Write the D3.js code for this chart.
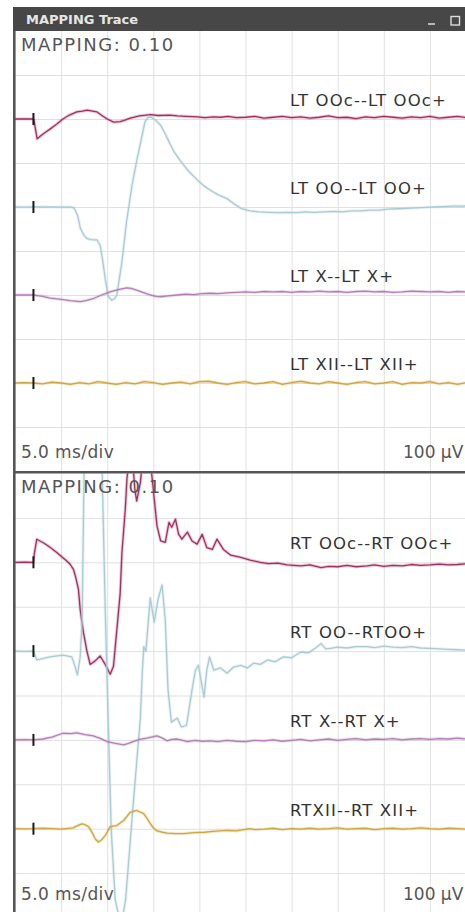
<!DOCTYPE html>
<html>
<head>
<meta charset="utf-8">
<script src="https://cdn.jsdelivr.net/npm/d3@7"></script>
<style>
  body { margin: 0; background: #fff; }
  svg { display: block; }
  text { font-family: "DejaVu Sans", Verdana, sans-serif; }
</style>
</head>
<body>
<script>
// time in ms, amplitude in uV (100 uV / div, 5 ms / div)
var LT_OOc = [[0,0],[1,0.5],[2,0],[2.05,-2],[2.4,-45],[2.8,-38],[3.3,-30],[3.8,-23],[4.5,-12],[5.2,0],[5.9,9],[6.7,16],[7.3,18],[7.8,20],[8.4,18],[8.9,16],[9.5,7],[10.0,0],[10.7,-7],[11.4,-6],[12.0,-2],[12.5,2],[13.5,7],[14.7,10],[15.5,8],[16.8,9],[17.6,7],[18.5,6],[19.8,5],[20.6,3],[21.5,5],[22.3,4],[23.1,6],[24,3],[25,4],[26,6],[27,2],[28,4],[29,6],[30,3],[31,5],[32,2],[33,4],[34,7],[35,3],[36,4],[37,1],[38,5],[39,3],[40,6],[41,4],[42,2],[43,5],[44,3],[45,6],[46,2],[47,4],[48,6],[49,3],[50,4]];
var LT_OO = [[0,0],[1,-0.5],[2,0],[3,0.5],[4,0],[5,-0.5],[6,0],[6.4,-2],[6.8,-20],[7.1,-49],[7.5,-65],[7.8,-72],[8.3,-74],[8.9,-75],[9.24,-87],[9.5,-120],[9.78,-162],[10.1,-203],[10.5,-212],[10.8,-208],[11.05,-200],[11.3,-165],[11.6,-124],[12.1,-33],[12.7,50],[13.2,105],[13.6,144],[14.1,194],[14.4,203],[14.7,205],[15.2,198],[15.8,186],[16.3,166],[16.8,144],[17.3,124],[17.9,106],[18.8,82],[19.8,61],[20.5,48],[21.2,38],[22.0,28],[23.0,19],[23.7,8],[24.5,-3],[25.5,-9],[26.5,-11],[27.5,-12],[28.5,-13],[29.5,-12],[30.5,-13],[31.5,-11],[32.5,-12],[33.5,-11],[34.5,-10],[35.5,-11],[36.5,-9],[37.5,-9],[38.5,-7],[39.5,-7],[40.5,-5],[41.5,-4],[42.5,-3],[43.5,-2],[44.5,-1],[45.5,0],[46.5,1],[47.5,2],[48.5,2],[49.5,3],[50,3]];
var LT_X = [[0,0],[1,0.5],[2,0],[3,-3],[3.8,-7],[5,-10],[6,-13],[7.1,-15],[7.8,-12],[8.5,-8],[9.4,0],[10.3,7],[11.2,12],[12.1,16],[12.6,15],[13.2,11],[14.0,5],[14.7,0],[15.3,-3],[15.8,-4],[16.6,-2],[17.6,0],[18.5,2],[19.4,1],[20.3,3],[21.2,4],[22,3],[23,5],[24,6],[25,7],[26,6],[27,8],[28,7],[29,8],[30,6],[31,8],[32,7],[33,9],[34,7],[35,8],[36,6],[37,8],[38,9],[39,7],[40,8],[41,6],[42,7],[43,9],[44,8],[45,7],[46,8],[47,6],[48,8],[49,7],[50,8]];
var LT_XII = [[0,0],[1,1],[2,0],[3,-2],[4,2],[5,0],[6,-3],[7,1],[8,-2],[9,3],[10,0],[11,-3],[12,1],[13,-2],[14,3],[15,1],[16,-3],[17,0],[18,2],[19,-2],[20,3],[21,4],[22,0],[23,-3],[24,1],[25,3],[26,-2],[27,0],[28,3],[29,-3],[30,1],[31,4],[32,0],[33,-2],[34,3],[35,0],[36,-3],[37,1],[38,3],[39,-2],[40,0],[41,3],[42,-3],[43,1],[44,0],[45,3],[46,-2],[47,1],[48,-3],[49,1],[50,0]];

var RT_OOc = [[0,0],[1,0.5],[2,0],[2.1,20],[2.36,52],[2.7,48],[3.08,44],[3.8,34],[4.53,22],[5.1,12],[5.62,3],[6.0,-5],[6.34,-16],[6.6,-35],[6.88,-61],[7.07,-106],[7.42,-158],[7.8,-200],[8.15,-230],[8.7,-222],[9.24,-211],[9.78,-230],[10.33,-252],[10.68,-234],[11.05,-151],[11.4,-72],[11.6,22],[11.96,119],[12.14,187],[12.3,221],[12.7,245],[13.0,164],[13.2,138],[13.6,180],[13.9,245],[14.3,240],[14.67,230],[15.0,164],[15.4,82],[15.8,48],[16.3,45],[16.7,90],[17.0,79],[17.4,97],[17.75,63],[18.1,52],[18.7,68],[19.2,48],[19.75,41],[20.3,63],[20.8,33],[21.4,29],[21.9,52],[22.6,29],[23.4,16],[24.5,11],[25.5,5],[26.6,0],[27.5,-3],[28.5,-2],[29.5,-6],[31,-8],[32,-6],[33.2,-12],[34,-9],[35,-10],[36,-7],[37,-10],[38.2,-8],[39,-6],[40,-9],[41,-7],[42,-8],[43,-5],[44,-7],[45,-6],[46,-4],[47,-6],[48,-5],[49,-3],[50,-5]];
var RT_OO = [[0,0],[1,-0.5],[2,0],[2.36,-20],[3.8,-13],[5.2,-9],[6.16,-13],[6.52,-35],[6.77,-54],[7.07,-13],[7.28,70],[7.5,420],[8.37,460],[9.24,440],[9.46,400],[9.78,100],[10.1,-150],[10.43,-400],[10.87,-560],[11.5,-620],[12.0,-560],[12.8,-350],[13.6,-150],[13.8,-50],[13.97,10],[14.2,0],[14.67,120],[15.1,65],[15.5,115],[15.95,149],[16.3,70],[16.6,-88],[16.96,-160],[17.6,-151],[18.04,-171],[18.6,-167],[19.2,-88],[19.57,-43],[19.9,-32],[20.5,-104],[20.8,-43],[21.1,-13],[21.55,-43],[22.3,-38],[23.0,-50],[23.7,-36],[24.5,-32],[25.2,-38],[25.9,-27],[26.6,-30],[27.4,-20],[28.2,-24],[29.1,-13],[30,-15],[31,-2],[31.8,-4],[32.6,7],[33.2,17],[33.7,5],[34.2,6],[35,9],[36,7],[37,10],[38.2,10],[39,8],[40,11],[41,9],[42,8],[43,10],[44,7],[45,6],[46,5],[47,4],[48,3],[49,2],[50,2]];
var RT_X = [[0,0],[1,0.5],[2,0],[3,2],[4,6],[5.2,15],[6,14],[6.7,16],[7.6,12],[8.5,9],[9.3,3],[10.0,-4],[10.9,-8],[11.8,-11],[12.3,-8],[12.8,-4],[13.5,1],[14.3,4],[15.4,9],[16.0,4],[16.5,-2],[17.0,1],[17.6,2],[18.2,-1],[18.7,-4],[19.5,-1],[20.3,-3],[21.2,-2],[22,-4],[23,-1],[24,-3],[25,-4],[26,-1],[27,-2],[28,0],[29,-3],[30,-1],[31,1],[32,-2],[33,0],[34,2],[35,-1],[36,1],[37,3],[38,0],[39,2],[40,1],[41,3],[42,0],[43,2],[44,3],[45,1],[46,3],[47,2],[48,4],[49,2],[50,3]];
var RT_XII = [[0,0],[1,-0.5],[2,0],[3,1],[4,0],[5,-1],[6.3,2],[6.8,7],[7.25,11],[7.6,9],[8.0,4],[8.4,-10],[8.7,-23],[9.05,-30],[9.4,-25],[9.8,-15],[10.3,4],[10.7,6],[11.05,7],[11.8,19],[12.5,37],[13.2,41],[13.95,34],[14.3,24],[14.7,11],[15.0,2],[15.4,-5],[16.0,-8],[16.5,-10],[17.4,-11],[18.3,-11],[19.4,-9],[20.5,-8],[21.5,-6],[23.0,-4],[24,-5],[25.5,0],[26,-2],[27,-1],[28,1],[29,-2],[30,0],[31,-1],[32,1],[33,-1],[34,0],[35,2],[36,-1],[37,0],[38,1],[39,-2],[40,0],[41,1],[42,-1],[43,0],[44,2],[45,0],[46,-1],[47,1],[48,0],[49,-1],[50,0]];

var leftLabels = ["LT OOc--LT OOc+", "LT OO--LT OO+", "LT X--LT X+", "LT XII--LT XII+"];
var rightLabels = ["RT OOc--RT OOc+", "RT OO--RTOO+", "RT X--RT X+", "RTXII--RT XII+"];
var traceColors = ["#a32e62", "#a9cbd4", "#b27fb6", "#cfa640"];
var stimTime = 2;        // ms
var timeBase = "5.0 ms/div";
var gainText = "100 \u00b5V";
var headerText = "MAPPING: 0.10";

var W = 465, H = 912;
var svg = d3.select("body").append("svg")
    .attr("width", W)
    .attr("height", H);

var left = 15;
var x = d3.scaleLinear().domain([0, 50]).range([left, left + 461]);

// panels: top y and size of one division
var panels = [
    { top: 31, div: 44, labels: leftLabels, traces: [LT_OOc, LT_OO, LT_X, LT_XII] },
    { top: 473.5, div: 44.4, labels: rightLabels, traces: [RT_OOc, RT_OO, RT_X, RT_XII] }
];

svg.append("rect").attr("width", W).attr("height", H).attr("fill", "#fff");

panels.forEach(function (p, pi) {
    var bottom = p.top + p.div * 10;
    // y in uV on a 0..1000 range, channels sit at 800, 600, 400, 200
    var y = d3.scaleLinear().domain([0, 1000]).range([bottom, p.top]);

    var g = svg.append("g").attr("class", "panel");

    var clipId = "clip" + pi;
    svg.append("clipPath").attr("id", clipId)
        .append("rect")
        .attr("x", left).attr("y", p.top)
        .attr("width", W - left).attr("height", Math.min(bottom, H) - p.top);

    // grid
    var xAxis = d3.axisBottom(x).tickValues(d3.range(5, 55, 5)).tickSize(-(bottom - p.top)).tickFormat("");
    var yAxis = d3.axisLeft(y).tickValues(d3.range(100, 1000, 100)).tickSize(-(W - left)).tickFormat("");
    var gx = g.append("g").attr("transform", "translate(0," + bottom + ")").call(xAxis);
    var gy = g.append("g").attr("transform", "translate(" + left + ",0)").call(yAxis);
    [gx, gy].forEach(function (a) {
        a.select(".domain").remove();
        a.selectAll("line").attr("stroke", "#e0e0e0").attr("stroke-width", 1);
    });

    var traceG = g.append("g").attr("clip-path", "url(#" + clipId + ")");

    p.traces.forEach(function (tr, k) {
        var base = 800 - 200 * k;
        var line = d3.line()
            .x(function (d) { return x(d[0]); })
            .y(function (d) { return y(base + d[1]); });

        // soft halo like the scanned print
        traceG.append("path")
            .datum(tr)
            .attr("d", line)
            .attr("fill", "none")
            .attr("stroke", traceColors[k])
            .attr("stroke-opacity", 0.25)
            .attr("stroke-width", 3.2)
            .attr("stroke-linejoin", "round");

        traceG.append("path")
            .datum(tr)
            .attr("d", line)
            .attr("fill", "none")
            .attr("stroke", traceColors[k])
            .attr("stroke-width", 1.3)
            .attr("stroke-linejoin", "round");

        // stimulus marker
        g.append("line")
            .attr("x1", x(stimTime)).attr("x2", x(stimTime))
            .attr("y1", y(base) - 6).attr("y2", y(base) + 6)
            .attr("stroke", "#1a1a1a")
            .attr("stroke-width", 2);

        g.append("text")
            .attr("x", 290)
            .attr("y", y(base) - 13)
            .attr("font-size", 16.5)
            .attr("letter-spacing", 1.1)
            .attr("fill", "#333")
            .text(p.labels[k]);
    });

    g.append("text")
        .attr("x", 21)
        .attr("y", p.top + 19.5)
        .attr("font-size", 18)
        .attr("letter-spacing", 1.5)
        .attr("fill", "#555")
        .text(headerText);

    g.append("text")
        .attr("x", 21)
        .attr("y", p.top + 426.5)
        .attr("font-size", 17)
        .attr("letter-spacing", 0.4)
        .attr("fill", "#555")
        .text(timeBase);

    g.append("text")
        .attr("x", 403)
        .attr("y", p.top + 426.5)
        .attr("font-size", 17)
        .attr("fill", "#555")
        .text(gainText);
});

// separator between the two panels
svg.append("rect")
    .attr("x", 13).attr("y", 471)
    .attr("width", W - 13).attr("height", 2.5)
    .attr("fill", "#555");

// left frame
svg.append("rect")
    .attr("x", 13).attr("y", 7)
    .attr("width", 2.6).attr("height", H - 7)
    .attr("fill", "#555");

// title bar
svg.append("rect")
    .attr("x", 13).attr("y", 7)
    .attr("width", W - 13).attr("height", 24)
    .attr("fill", "#474747");

svg.append("text")
    .attr("x", 26)
    .attr("y", 24)
    .attr("font-size", 13)
    .attr("font-weight", "bold")
    .attr("fill", "#e6e6e6")
    .text("MAPPING Trace");

svg.append("line")
    .attr("x1", 428).attr("x2", 435)
    .attr("y1", 24).attr("y2", 24)
    .attr("stroke", "#ddd").attr("stroke-width", 1.5);

svg.append("rect")
    .attr("x", 451).attr("y", 16.5)
    .attr("width", 8.5).attr("height", 8.5)
    .attr("fill", "none")
    .attr("stroke", "#ddd").attr("stroke-width", 1.4);
</script>
</body>
</html>
